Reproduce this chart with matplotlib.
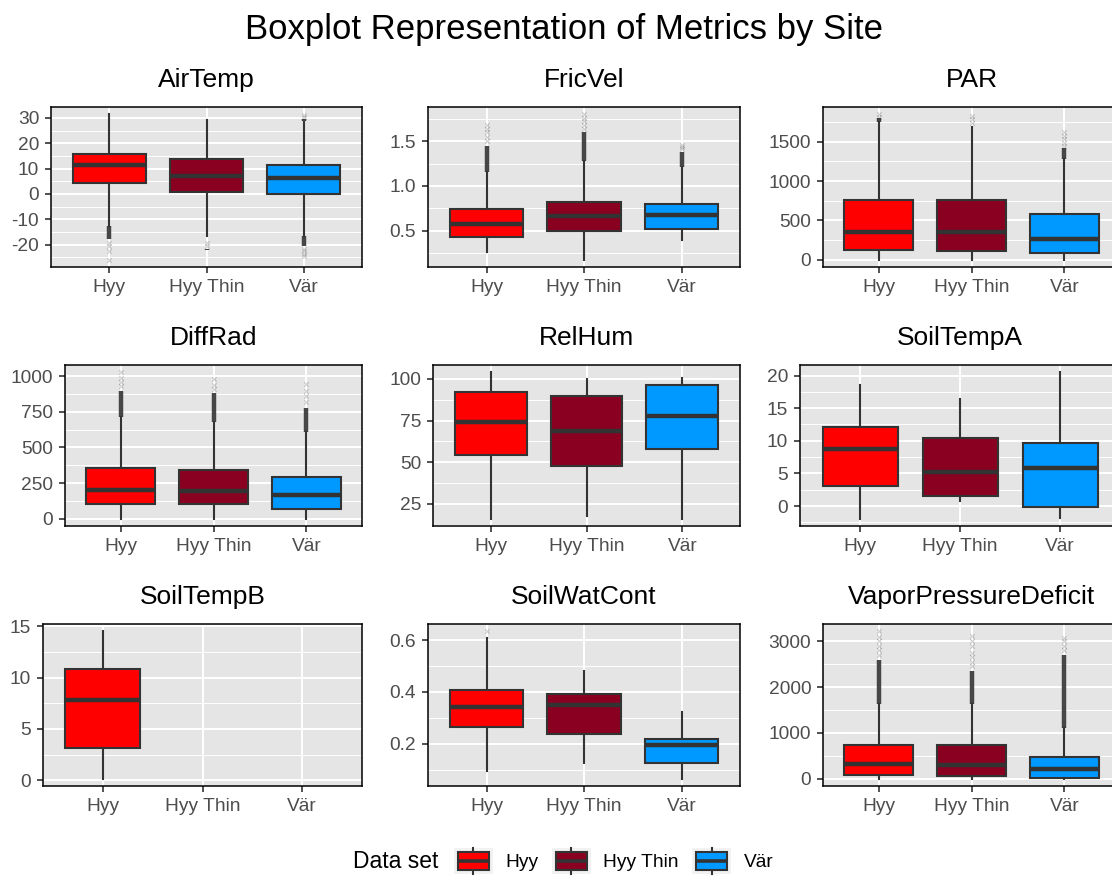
import matplotlib
matplotlib.use("Agg")
import matplotlib.pyplot as plt
from matplotlib.patches import Patch, Rectangle
from matplotlib.lines import Line2D
from matplotlib.legend_handler import HandlerBase

plt.rcParams['font.family'] = ['Liberation Sans', 'DejaVu Sans']

W, H = 1112, 876

# Datos: (bigote inf, Q1, mediana, Q3, bigote sup) por sitio
sites = ["Hyy", "Hyy Thin", "Vär"]
site_colors = ["#FF0000", "#8A0020", "#0099FF"]

airtemp_box = [(-12.5, 4.2, 11.5, 15.7, 31.4), (-16.7, 0.9, 7.1, 13.7, 29.0), (-16.7, 0.0, 6.1, 11.6, 28.4)]
airtemp_dense = [[(-17.8, -12.5)], [(-22.2, -21.6)], [(-20.5, -16.7), (28.6, 29.6)]]
airtemp_faint = [[-19.5, -20.5, -22.5, -25.9], [-19.2, -20.3], [-21.5, -22.5, -23.5, -24.6, 30.5, 31.0]]
airtemp_ticks = [-20, -10, 0, 10, 20, 30]

fricvel_box = [(0.257, 0.434, 0.574, 0.739, 1.16), (0.176, 0.50, 0.669, 0.82, 1.28), (0.397, 0.518, 0.67, 0.80, 1.206)]
fricvel_dense = [[(1.16, 1.45)], [(1.28, 1.6)], [(1.206, 1.38)]]
fricvel_faint = [[1.5, 1.55, 1.6, 1.64, 1.68], [1.64, 1.68, 1.72, 1.76, 1.8], [1.41, 1.44, 1.46]]
fricvel_ticks = [0.5, 1.0, 1.5]

par_box = [(0, 121, 359, 764, 1746), (0, 109, 347, 756, 1683), (0, 88, 263, 576, 1287)]
par_dense = [[(1746, 1800)], [], [(1287, 1420)]]
par_faint = [[1820, 1850], [1740, 1790, 1830], [1450, 1490, 1530, 1570, 1620]]
par_ticks = [0, 500, 1000, 1500]

diffrad_box = [(0, 100, 204, 355, 715), (0, 100, 197, 341, 680), (0, 65, 167, 290, 610)]
diffrad_dense = [[(715, 900)], [(680, 880)], [(610, 780)]]
diffrad_faint = [[930, 960, 990, 1028], [910, 940, 981], [820, 860, 900, 947]]
diffrad_ticks = [0, 250, 500, 750, 1000]

relhum_box = [(16, 54, 74, 92, 104), (17.6, 47.4, 69, 90, 100), (16, 57.6, 78, 96.2, 100.6)]
relhum_dense = [[], [], []]
relhum_faint = [[], [], []]
relhum_ticks = [25, 50, 75, 100]

soiltempa_box = [(-1.94, 3.06, 8.8, 12.1, 18.5), (0.77, 1.6, 5.2, 10.5, 16.4), (-1.8, -0.15, 5.8, 9.7, 20.5)]
soiltempa_dense = [[], [], []]
soiltempa_faint = [[], [], []]
soiltempa_ticks = [0, 5, 10, 15, 20]

soiltempb_box = [(0.16, 3.18, 7.86, 10.87, 14.5), None, None]
soiltempb_dense = [[], [], []]
soiltempb_faint = [[], [], []]
soiltempb_ticks = [0, 5, 10, 15]

soilwat_box = [(0.094, 0.265, 0.342, 0.409, 0.608), (0.127, 0.238, 0.35, 0.392, 0.481), (0.065, 0.127, 0.196, 0.22, 0.323)]
soilwat_dense = [[], [], []]
soilwat_faint = [[0.634], [], []]
soilwat_ticks = [0.2, 0.4, 0.6]

vpd_box = [(0, 73, 312, 726, 1634), (0, 58, 298, 726, 1619), (0, 7, 203, 479, 1111)]
vpd_dense = [[(1634, 2600)], [(1619, 2350)], [(1111, 2700)]]
vpd_faint = [[2700, 2800, 2900, 3000, 3100, 3216], [2450, 2550, 2650, 2750, 2900, 3000, 3107], [2800, 2900, 3000, 3071]]
vpd_ticks = [0, 1000, 2000, 3000]

panels = [
    ("AirTemp", airtemp_box, airtemp_dense, airtemp_faint, airtemp_ticks, "{:g}"),
    ("FricVel", fricvel_box, fricvel_dense, fricvel_faint, fricvel_ticks, "{:.1f}"),
    ("PAR", par_box, par_dense, par_faint, par_ticks, "{:g}"),
    ("DiffRad", diffrad_box, diffrad_dense, diffrad_faint, diffrad_ticks, "{:g}"),
    ("RelHum", relhum_box, relhum_dense, relhum_faint, relhum_ticks, "{:g}"),
    ("SoilTempA", soiltempa_box, soiltempa_dense, soiltempa_faint, soiltempa_ticks, "{:g}"),
    ("SoilTempB", soiltempb_box, soiltempb_dense, soiltempb_faint, soiltempb_ticks, "{:g}"),
    ("SoilWatCont", soilwat_box, soilwat_dense, soilwat_faint, soilwat_ticks, "{:.1f}"),
    ("VaporPressureDeficit", vpd_box, vpd_dense, vpd_faint, vpd_ticks, "{:g}"),
]

# Posicion de cada panel en pixeles (izq, arriba, der, abajo)
panel_px = [
    (51, 107, 362, 267), (428, 107, 740, 267), (823, 107, 1120, 267),
    (65, 365, 362, 526), (433, 365, 740, 526), (800, 365, 1120, 526),
    (43, 624, 362, 786), (428, 624, 740, 786), (823, 624, 1120, 786),
]

EDGE = "#333333"
TICK_SIZE = 13.8


def draw_panel(ax, title, boxes, dense, faint, ticks, fmt):
    ax.set_facecolor("#E5E5E5")
    stats, pos = [], []
    for i, b in enumerate(boxes):
        if b is None:
            continue
        lo, q1, med, q3, hi = b
        stats.append(dict(whislo=lo, q1=q1, med=med, q3=q3, whishi=hi, fliers=[]))
        pos.append(i + 1)
    arts = ax.bxp(stats, positions=pos, widths=0.75, patch_artist=True,
                  showcaps=False, showfliers=False, manage_ticks=False,
                  boxprops=dict(edgecolor=EDGE, linewidth=1.5),
                  whiskerprops=dict(color=EDGE, linewidth=1.5),
                  medianprops=dict(color=EDGE, linewidth=3.2, solid_capstyle="butt"),
                  zorder=3)
    for patch, p in zip(arts["boxes"], pos):
        patch.set_facecolor(site_colors[p - 1])

    # valores atipicos: zona densa y puntos sueltos
    for i, segs in enumerate(dense):
        for lo, hi in segs:
            ax.vlines(i + 1, lo, hi, color=EDGE, lw=3.2, alpha=0.9, zorder=2.5)
    for i, pts in enumerate(faint):
        if pts:
            ax.scatter([i + 1] * len(pts), pts, marker="x", s=10, c="k",
                       alpha=0.18, linewidths=0.8, zorder=2.5)

    ax.set_yticks(ticks)
    ax.set_yticklabels([fmt.format(t) for t in ticks])
    step = ticks[1] - ticks[0]
    ax.set_yticks([ticks[0] - step / 2 + k * step for k in range(len(ticks) + 1)], minor=True)
    ax.set_xticks([1, 2, 3])
    ax.set_xticklabels(sites)

    # limites como en ggplot: rango de los datos + 5%
    vals = []
    for b in boxes:
        if b is not None:
            vals += [b[0], b[4]]
    for segs in dense:
        for lo, hi in segs:
            vals += [lo, hi]
    for pts in faint:
        vals += pts
    lo, hi = min(vals), max(vals)
    pad = 0.05 * (hi - lo)
    ax.set_ylim(lo - pad, hi + pad)
    ax.set_xlim(0.4, 3.6)

    ax.set_axisbelow(True)
    ax.grid(which="major", color="white", lw=1.4)
    ax.grid(which="minor", axis="y", color="white", lw=0.7)
    ax.tick_params(which="minor", length=0)
    ax.tick_params(which="major", length=4.5, width=1.2, color=EDGE,
                   labelcolor="#4D4D4D", labelsize=TICK_SIZE, pad=4)
    for s in ax.spines.values():
        s.set_color("black")
        s.set_linewidth(1.1)
    ax.annotate(title, xy=(0.5, 1), xycoords="axes fraction", xytext=(0, 14.5),
                textcoords="offset points", ha="center", va="baseline", fontsize=19)


class BoxKey(HandlerBase):
    # glifo de caja para la leyenda, al estilo ggplot
    def create_artists(self, legend, orig_handle, xdescent, ydescent, width, height, fontsize, trans):
        x0, y0 = -xdescent, -ydescent
        bg = Rectangle((x0, y0), width, height, facecolor="#F2F2F2", edgecolor="none", transform=trans)
        bw, bh = width * 0.8, height * 0.72
        bx, by = x0 + (width - bw) / 2, y0 + (height - bh) / 2
        cx = x0 + width / 2
        w1 = Line2D([cx, cx], [y0, by], color=EDGE, lw=1.5, transform=trans)
        w2 = Line2D([cx, cx], [by + bh, y0 + height], color=EDGE, lw=1.5, transform=trans)
        box = Rectangle((bx, by), bw, bh, facecolor=orig_handle.get_facecolor(),
                        edgecolor=EDGE, lw=1.5, transform=trans)
        med = Line2D([bx, bx + bw], [y0 + height / 2] * 2, color=EDGE, lw=2.6,
                     solid_capstyle="butt", transform=trans)
        return [bg, w1, w2, box, med]


fig = plt.figure(figsize=(W / 100, H / 100), dpi=100)

for (l, t, r, b), spec in zip(panel_px, panels):
    ax = fig.add_axes([l / W, 1 - b / H, (r - l) / W, (b - t) / H])
    draw_panel(ax, *spec)

fig.text(564 / W, 1 - 39 / H, "Boxplot Representation of Metrics by Site",
         ha="center", va="baseline", fontsize=25)

fig.text(353 / W, 1 - 861 / H, "Data set", ha="left", va="center", fontsize=16.5)
handles = [Patch(facecolor=c, label=s) for s, c in zip(sites, site_colors)]
fig.legend(handles=handles, handler_map={Patch: BoxKey()}, loc="center left",
           bbox_to_anchor=(454 / W, 1 - 861 / H), ncol=3, frameon=False,
           fontsize=TICK_SIZE, handlelength=2.03, handleheight=1.67, handletextpad=0.65,
           columnspacing=0.7, borderpad=0, borderaxespad=0)

fig.savefig("out.png", dpi=100)
